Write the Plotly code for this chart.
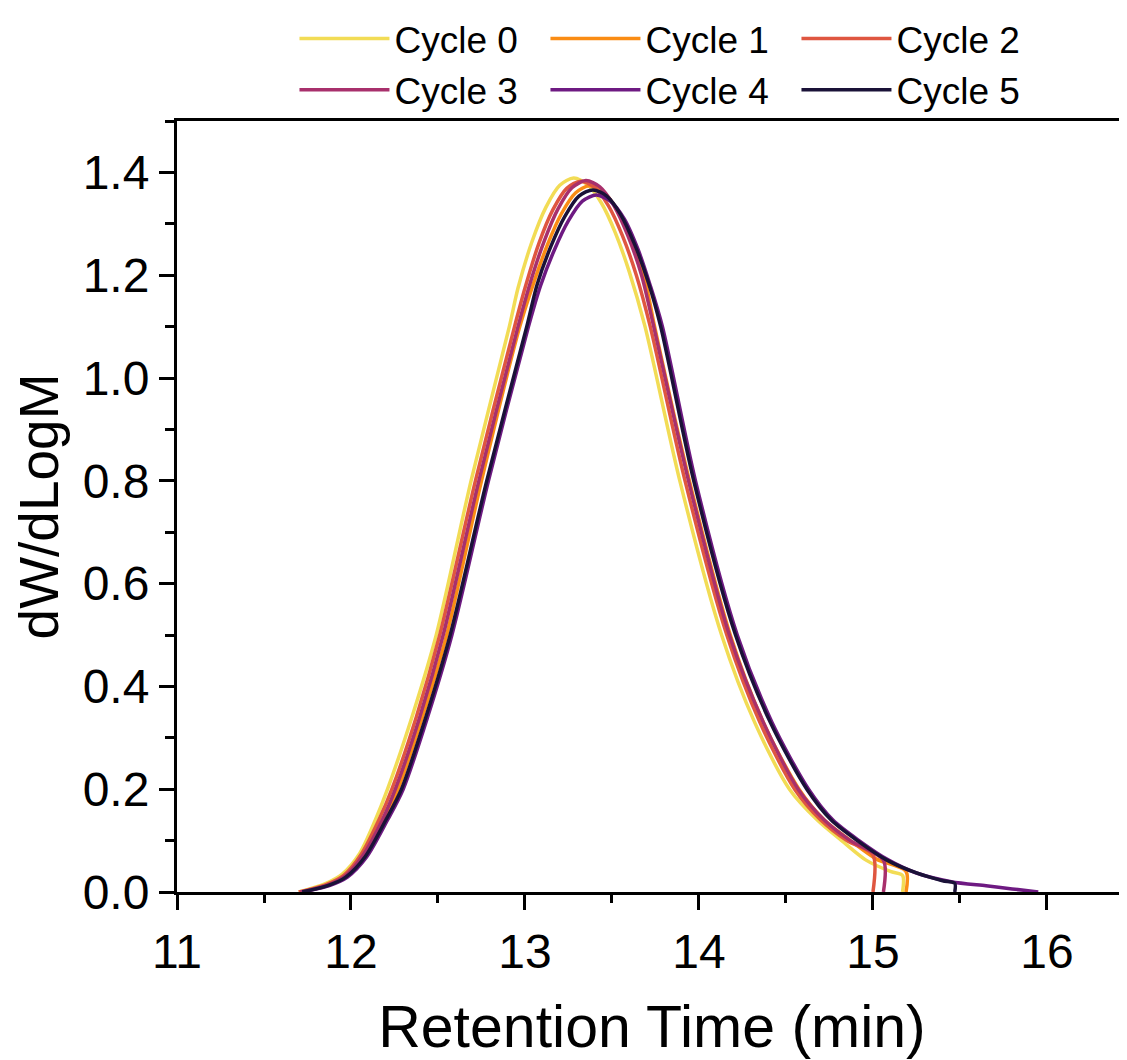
import plotly.graph_objects as go

names = ["Cycle 0", "Cycle 1", "Cycle 2", "Cycle 3", "Cycle 4", "Cycle 5"]
colors = ["#F2DC55", "#FA8C14", "#DF5640", "#A8306C", "#6E1A82", "#1A1238"]

# Cycle 0
x0 = [11.70, 11.85, 11.95, 12.05, 12.14, 12.21, 12.35, 12.49, 12.69, 12.91, 12.96, 13.04, 13.12, 13.20, 13.28, 13.36, 13.44, 13.52, 13.60, 13.69, 13.89, 14.13, 14.32, 14.52, 14.68, 14.82, 14.96, 15.10, 15.17, 15.17]
y0 = [0.0, 0.016, 0.035, 0.075, 0.14, 0.20, 0.34, 0.50, 0.80, 1.10, 1.175, 1.265, 1.332, 1.375, 1.389, 1.376, 1.340, 1.282, 1.206, 1.10, 0.80, 0.50, 0.33, 0.20, 0.14, 0.10, 0.062, 0.040, 0.032, 0.0]
# Cycle 1
x1 = [11.71, 11.87, 11.97, 12.08, 12.19, 12.27, 12.41, 12.55, 12.75, 12.97, 13.05, 13.13, 13.21, 13.29, 13.37, 13.45, 13.53, 13.61, 13.69, 13.745, 13.945, 14.18, 14.37, 14.575, 14.72, 14.87, 15.02, 15.19, 15.19]
y1 = [0.0, 0.014, 0.031, 0.072, 0.14, 0.20, 0.34, 0.50, 0.80, 1.10, 1.185, 1.260, 1.320, 1.360, 1.374, 1.362, 1.327, 1.270, 1.190, 1.10, 0.80, 0.50, 0.33, 0.20, 0.14, 0.10, 0.064, 0.040, 0.0]
# Cycle 2
x2 = [11.70, 11.86, 11.96, 12.06, 12.16, 12.235, 12.375, 12.51, 12.715, 12.94, 13.00, 13.08, 13.16, 13.24, 13.32, 13.40, 13.48, 13.56, 13.64, 13.72, 13.92, 14.16, 14.35, 14.55, 14.70, 14.85, 15.00, 15.00]
y2 = [0.0, 0.015, 0.033, 0.074, 0.14, 0.20, 0.34, 0.50, 0.80, 1.10, 1.175, 1.262, 1.327, 1.369, 1.383, 1.371, 1.335, 1.277, 1.200, 1.10, 0.80, 0.50, 0.33, 0.20, 0.14, 0.10, 0.072, 0.0]
# Cycle 3
x3 = [11.71, 11.87, 11.97, 12.07, 12.18, 12.255, 12.395, 12.53, 12.735, 12.96, 13.03, 13.11, 13.19, 13.27, 13.35, 13.43, 13.51, 13.59, 13.67, 13.74, 13.94, 14.175, 14.37, 14.57, 14.72, 14.87, 15.06, 15.06]
y3 = [0.0, 0.014, 0.032, 0.072, 0.14, 0.20, 0.34, 0.50, 0.80, 1.10, 1.185, 1.266, 1.329, 1.370, 1.384, 1.372, 1.336, 1.278, 1.200, 1.10, 0.80, 0.50, 0.33, 0.20, 0.14, 0.10, 0.062, 0.0]
# Cycle 4
x4 = [11.72, 11.88, 11.98, 12.09, 12.21, 12.30, 12.44, 12.58, 12.79, 13.02, 13.09, 13.17, 13.25, 13.33, 13.41, 13.49, 13.57, 13.65, 13.72, 13.79, 13.98, 14.22, 14.42, 14.63, 14.77, 14.92, 15.09, 15.25, 15.45, 15.65, 15.80, 15.95]
y4 = [0.0, 0.013, 0.029, 0.068, 0.14, 0.20, 0.34, 0.50, 0.80, 1.10, 1.180, 1.250, 1.306, 1.344, 1.356, 1.344, 1.310, 1.250, 1.180, 1.10, 0.80, 0.50, 0.33, 0.20, 0.14, 0.10, 0.062, 0.037, 0.020, 0.012, 0.006, 0.0]
# Cycle 5
x5 = [11.72, 11.87, 11.97, 12.08, 12.20, 12.29, 12.43, 12.57, 12.78, 13.01, 13.07, 13.15, 13.23, 13.31, 13.39, 13.47, 13.55, 13.63, 13.71, 13.78, 13.97, 14.21, 14.41, 14.62, 14.76, 14.91, 15.08, 15.25, 15.40, 15.47, 15.47]
y5 = [0.0, 0.013, 0.029, 0.068, 0.14, 0.20, 0.34, 0.50, 0.80, 1.10, 1.182, 1.257, 1.315, 1.354, 1.366, 1.354, 1.318, 1.260, 1.185, 1.10, 0.80, 0.50, 0.33, 0.20, 0.14, 0.10, 0.062, 0.037, 0.022, 0.017, 0.0]

xs = [x0, x1, x2, x3, x4, x5]
ys = [y0, y1, y2, y3, y4, y5]

FONT = "Liberation Sans, Arial, sans-serif"

fig = go.Figure()
for n, c, x, y in zip(names, colors, xs, ys):
    fig.add_trace(go.Scatter(x=x, y=y, mode="lines", name=n,
                             line=dict(color=c, width=3.5, shape="spline", smoothing=0.8)))

# page has an 8px body margin, so the figure is 8px smaller and offset by it
fig.update_layout(
    width=1119, height=1052,
    margin=dict(l=169, r=0, t=112, b=168),
    paper_bgcolor="white", plot_bgcolor="white",
    font=dict(family=FONT, color="black"),
    showlegend=True,
    legend=dict(orientation="h", xref="container", x=0.256, xanchor="left",
                yref="container", y=1.0, yanchor="top",
                font=dict(size=37, family=FONT), itemwidth=90,
                entrywidth=146, entrywidthmode="pixels",
                bgcolor="rgba(0,0,0,0)", tracegroupgap=0),
)

fig.update_xaxes(
    range=[11, 16.46], showgrid=False, zeroline=False, automargin=False,
    showline=True, linecolor="black", linewidth=3, mirror=True,
    ticks="outside", ticklen=15, tickwidth=3, tickcolor="black",
    tickmode="linear", tick0=11, dtick=1,
    tickfont=dict(size=48, family=FONT),
    minor=dict(ticks="outside", ticklen=8, tickwidth=3, tickcolor="black", dtick=0.5, showgrid=False),
    title=dict(text="Retention Time (min)", font=dict(size=59, family=FONT), standoff=30),
)
fig.update_yaxes(
    range=[0, 1.5], showgrid=False, zeroline=False, automargin=False,
    showline=True, linecolor="black", linewidth=3,
    ticks="outside", ticklen=15, tickwidth=3, tickcolor="black",
    tickmode="linear", tick0=0, dtick=0.2, tickformat=".1f",
    tickfont=dict(size=48, family=FONT),
    minor=dict(ticks="outside", ticklen=9, tickwidth=3, tickcolor="black", dtick=0.1, showgrid=False),
    title=dict(text="dW/dLogM", font=dict(size=55, family=FONT), standoff=8),
)

fig.write_html("out.html")
